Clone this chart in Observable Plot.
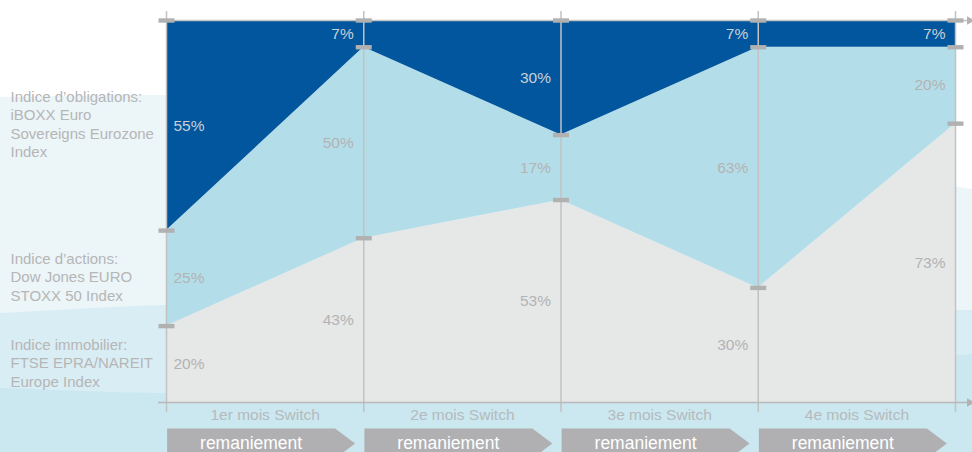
<!DOCTYPE html>
<html><head><meta charset="utf-8">
<script src="https://cdn.jsdelivr.net/npm/d3@7"></script>
<script src="https://cdn.jsdelivr.net/npm/@observablehq/plot@0.6"></script>
<style>
html,body{margin:0;padding:0;background:#fff;}
#wrap{position:relative;width:972px;height:452px;overflow:hidden;font-family:"Liberation Sans",Arial,sans-serif;}
#bg{position:absolute;left:0;top:0;}
#chart{position:absolute;left:0;top:0;}
</style></head><body>
<div id="wrap">
<svg id="bg" width="972" height="452">
  <rect x="0" y="0" width="972" height="452" fill="#cbe7ef"/>
  <path d="M0,388 C60,390 120,393 166,393 C450,392 750,370 972,354 V0 H0 Z" fill="#d9edf4"/>
  <path d="M0,313 C60,310 120,306 166,305 C500,300 800,310 972,310 V0 H0 Z" fill="#ecf5f8"/>
  <path d="M0,97 C60,96 120,95 166,95 C600,95 850,170 972,189 V0 H0 Z" fill="#ffffff"/>
</svg>
<div id="chart"></div>
</div>
<script>
// ---- data ----
const periods = ["1er mois Switch", "2e mois Switch", "3e mois Switch", "4e mois Switch"];
const steps = [0, 1, 2, 3, 4];
const seriesKeys = ["immobilier", "actions", "obligations"];
const seriesLabels = [
  "Indice immobilier:\nFTSE EPRA/NAREIT\nEurope Index",
  "Indice d’actions:\nDow Jones EURO\nSTOXX 50 Index",
  "Indice d’obligations:\niBOXX Euro\nSovereigns Eurozone\nIndex"
];
const immobilier = [20, 43, 53, 30, 73];
const actions = [25, 50, 17, 63, 20];
const obligations = [55, 7, 30, 7, 7];
const stepLabel = "remaniement";

// ---- build table ----
const values = {immobilier, actions, obligations};
const rows = [];
steps.forEach((s, i) => seriesKeys.forEach((k) => rows.push({x: s, series: k, value: values[k][i]})));
const firstRows = rows.filter(d => d.x === 0);
const otherRows = rows.filter(d => d.x !== 0);
const labelOf = Object.fromEntries(seriesKeys.map((k, i) => [k, seriesLabels[i]]));

const barSymbol = {draw(ctx) { ctx.moveTo(-8, -2.2); ctx.lineTo(8, -2.2); ctx.lineTo(8, 2.2); ctx.lineTo(-8, 2.2); ctx.closePath(); }};
const tagSymbol = {draw(ctx) { ctx.moveTo(-98, -15); ctx.lineTo(70, -15); ctx.lineTo(90, 0); ctx.lineTo(70, 15); ctx.lineTo(-98, 15); ctx.closePath(); }};

const stackOpts = {x: "x", y: "value", z: "series", order: seriesKeys};
const pctFill = d => d.series === "obligations" ? "#c9d0d8" : "#b3b3b3";

const chart = Plot.plot({
  width: 972,
  height: 452,
  marginLeft: 166,
  marginRight: 17,
  marginTop: 20,
  marginBottom: 50,
  x: {domain: [0, 4], axis: null},
  y: {domain: [0, 100], axis: null},
  color: {domain: seriesKeys, range: ["#e6e7e7", "#b3dee9", "#02569d"]},
  style: {background: "transparent", overflow: "visible", fontFamily: "'Liberation Sans', Arial, sans-serif"},
  marks: [
    Plot.areaY(rows, {...stackOpts, fill: "series"}),
    Plot.ruleX(steps, {x: d => d, stroke: "#c2c2c2", strokeWidth: 1.5, insetTop: -9, insetBottom: -10}),
    Plot.ruleY([100], {stroke: "#c4c4c4", strokeWidth: 1.5, insetRight: -14}),
    Plot.ruleY([0], {stroke: "#b8b8b8", strokeWidth: 1.5, insetLeft: -8, insetRight: -14}),
    Plot.dot([100, 0], {x: () => 4, y: d => d, symbol: "triangle", rotate: 90, r: 3.2, fill: "#b3b3b3", dx: 14}),
    Plot.dot(rows, Plot.stackY2({...stackOpts, symbol: barSymbol, fill: "#b1b1b1"})),
    Plot.text(firstRows, Plot.stackY({...stackOpts, text: d => d.value + "%", textAnchor: "start", dx: 7, fill: pctFill, fontSize: 15.5})),
    Plot.text(otherRows, Plot.stackY({...stackOpts, text: d => d.value + "%", textAnchor: "end", dx: -10, fill: pctFill, fontSize: 15.5})),
    Plot.text(firstRows, Plot.stackY({...stackOpts, text: d => labelOf[d.series], textAnchor: "start", dx: -156, dy: -2, lineHeight: 1.23, fill: "#b6b6b6", fontSize: 15})),
    Plot.text(periods, {x: (d, i) => i + 0.5, y: () => 0, text: d => d, dy: 13, fill: "#b5babd", fontSize: 15.5}),
    Plot.dot(periods, {x: (d, i) => i + 0.5, y: () => 0, symbol: tagSymbol, fill: "#b0b0b2", dy: 41}),
    Plot.text(periods, {x: (d, i) => i + 0.5, y: () => 0, text: () => stepLabel, fill: "#ffffff", fontSize: 17.5, dx: -14, dy: 41})
  ]
});
document.getElementById("chart").appendChild(chart);
</script>
</body></html>
